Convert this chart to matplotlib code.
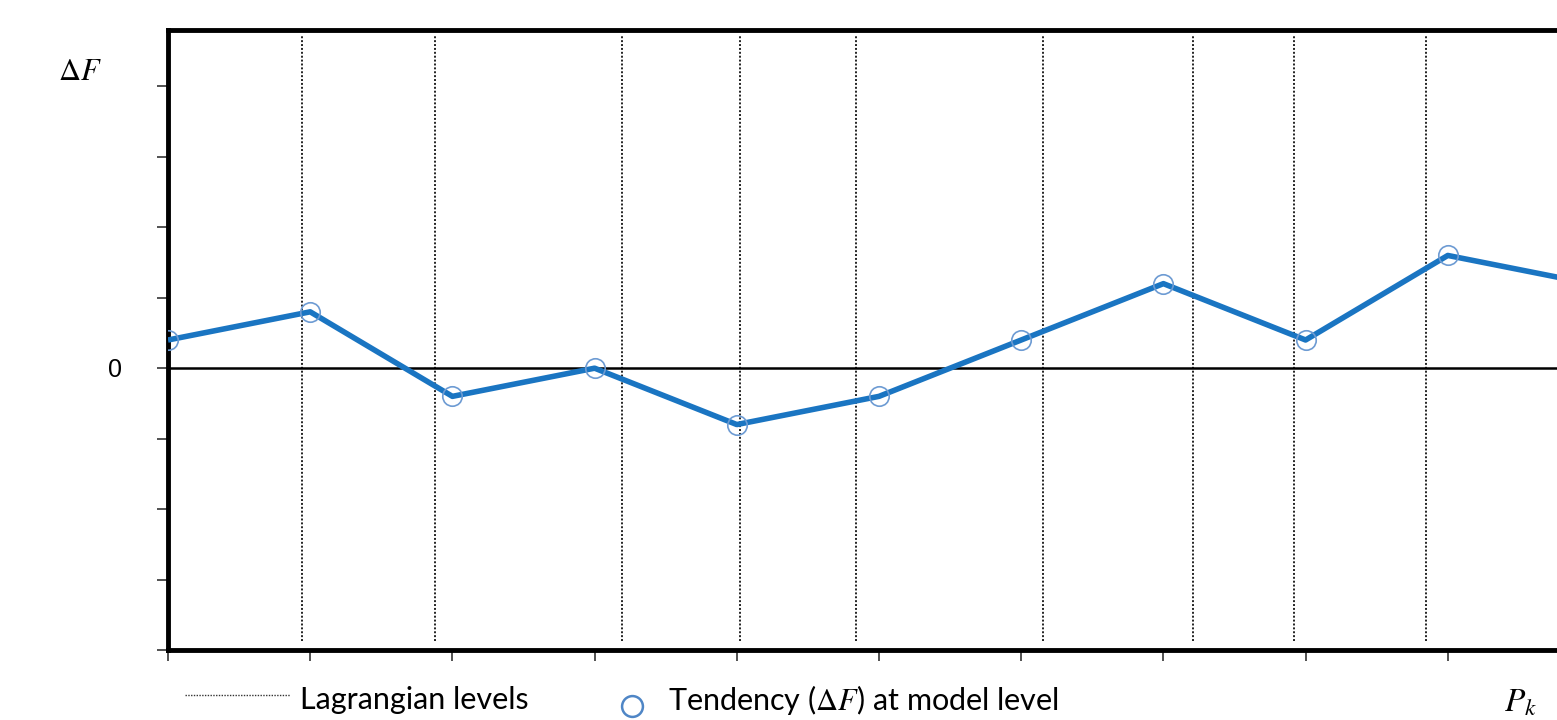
import matplotlib
matplotlib.use("Agg")
import matplotlib.pyplot as plt
from matplotlib.lines import Line2D
import numpy as np

# data (tick units)
model_levels = [0, 1, 2, 3, 4, 5, 6, 7, 8, 9, 10]
tendency = [0.4, 0.8, -0.4, 0.0, -0.8, -0.4, 0.4, 1.2, 0.4, 1.6, 1.2]
lagrangian_levels = [0.94, 1.88, 3.19, 4.02, 4.84, 6.15, 7.21, 7.92, 8.85]
y_ticks = [-4, -3, -2, -1, 0, 1, 2, 3, 4]

plt.rcParams["mathtext.fontset"] = "stix"

fig = plt.figure(figsize=(15.57, 7.2), dpi=100)
ax = fig.add_axes([168 / 1557, 70 / 720, 1422 / 1557, 620 / 720])

ax.set_xlim(0, 10)
ax.set_ylim(-4, 4.8)

# Lagrangian levels
for xl in lagrangian_levels:
    ax.axvline(xl, ymin=0.015, ymax=0.99, color="#222222", linestyle=(0, (1, 1)), linewidth=1.4)

# zero line
ax.axhline(0, color="black", linewidth=1.8)

# tendency line + markers
ax.plot(model_levels, tendency, color="#1a75c2", linewidth=4.0, solid_capstyle="butt", zorder=3)
ax.plot(model_levels, tendency, linestyle="none", marker="o", markersize=14,
        markerfacecolor="none", markeredgecolor="#6d9bd3", markeredgewidth=1.2, zorder=4)

for side in ["top", "left", "bottom"]:
    ax.spines[side].set_linewidth(3.5)
ax.spines["right"].set_visible(False)

ax.set_xticks(model_levels)
ax.set_xticklabels([])
ax.set_yticks(y_ticks)
ax.set_yticklabels([])
ax.tick_params(axis="both", direction="out", length=8, width=1.2, color="#333333")

# labels
fig.text(80 / 1557, 1 - 72 / 720, r"$\Delta F$", fontsize=22, ha="center", va="center")
fig.text(115 / 1557, 1 - 370 / 720, "0", fontsize=18, ha="center", va="center", family="Liberation Sans")
fig.text(1521 / 1557, 1 - 702 / 720, r"$P_k$", fontsize=24, ha="center", va="center")

# legend
fig.add_artist(Line2D([185 / 1557, 290 / 1557], [1 - 695 / 720, 1 - 695 / 720],
                      transform=fig.transFigure, color="#333333", linestyle=(0, (1, 1)), linewidth=1.0))
fig.text(300 / 1557, 1 - 700 / 720, "Lagrangian levels", fontsize=22, ha="left", va="center", family="Lato")
fig.add_artist(Line2D([632 / 1557], [1 - 706 / 720], transform=fig.transFigure, marker="o",
                      markersize=15, markerfacecolor="none", markeredgecolor="#4f86c6", markeredgewidth=1.8))
fig.text(668 / 1557, 1 - 700 / 720, r"Tendency ($\mathit{\Delta F}$) at model level", fontsize=22,
         ha="left", va="center", family="Lato")

fig.savefig("out.png", dpi=100)
